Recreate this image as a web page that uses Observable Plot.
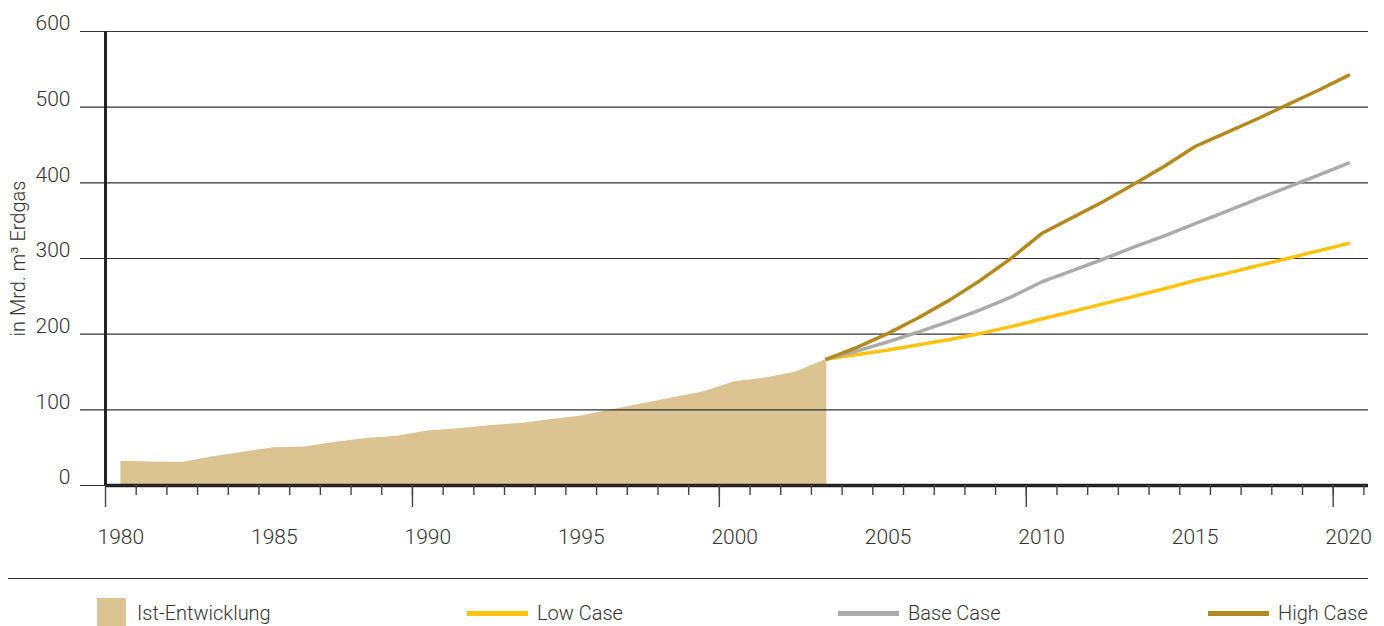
<!DOCTYPE html>
<html>
<head>
<meta charset="utf-8">
<script src="https://cdn.jsdelivr.net/npm/d3@7"></script>
<script src="https://cdn.jsdelivr.net/npm/@observablehq/plot@0.6"></script>
<style>
  html, body { margin: 0; padding: 0; background: #fff; }
  body { width: 1384px; height: 626px; overflow: hidden; font-family: Roboto, "Liberation Sans", sans-serif; }
  #chart svg text { font-weight: 300; }
  #legend { position: relative; width: 1384px; height: 56px; }
  #legend .rule { position: absolute; left: 8px; width: 1360px; top: 8px; height: 0; border-top: 1.5px solid #333; }
  #legend .item { position: absolute; top: 28px; height: 30px; display: flex; align-items: center; font-size: 20px; font-weight: 300; color: #333; }
  #legend .sq { width: 29px; height: 30px; margin-right: 11px; }
  #legend .ln { width: 61px; height: 5px; margin-right: 9px; }
</style>
</head>
<body>
<div id="chart"></div>
<div id="legend"></div>
<script>
// ---- data ----
const histYears = [1980,1981,1982,1983,1984,1985,1986,1987,1988,1989,1990,1991,1992,1993,1994,1995,1996,1997,1998,1999,2000,2001,2002,2003];
const istValues = [32,31,30.5,38,44,50,51,57,62,65,72,75,79,82,87,92,100,108,116,124,137,142,150,167];

const projYears = [2003,2004,2005,2006,2007,2008,2009,2010,2011,2012,2013,2014,2015,2016,2017,2018,2019,2020];
const lowCase  = [167,173,179,186,193,201,210,220,230,240,250,260,271,280,290,300,310,320];
const baseCase = [167,178,190,203,217,232,249,269,284,299,315,330,346,362,378,394,410,426];
const highCase = [167,183,201,222,245,271,300,333,354,375,398,422,448,466,484,503,522,542];

const yTicks = [0,100,200,300,400,500,600];
const labelYears = [1980,1985,1990,1995,2000,2005,2010,2015,2020];
const decadeTicks = [1980,1990,2000,2010,2020];
const yearTicks = [1981,1982,1983,1984,1985,1986,1987,1988,1989,1990,1991,1992,1993,1994,1995,1996,1997,1998,1999,2000,2001,2002,2003,2004,2005,2006,2007,2008,2009,2010,2011,2012,2013,2014,2015,2016,2017,2018,2019,2020,2021];

const seriesNames = ["Ist-Entwicklung","Low Case","Base Case","High Case"];
const seriesColors = ["#dbc392","#ffc30f","#ababab","#b28a1f"];
const yLabel = "in Mrd. m³ Erdgas";

// ---- tables ----
const hist = histYears.map((y,i) => ({year: y, value: istValues[i]}));
const proj = [];
[["Low Case", lowCase],["Base Case", baseCase],["High Case", highCase]].forEach(([name, vals]) => {
  projYears.forEach((y,i) => proj.push({series: name, year: y, value: vals[i]}));
});

const xMin = 1979.185, xMax = 2021.15;

const chart = Plot.plot({
  width: 1384,
  height: 570,
  marginLeft: 80,
  marginRight: 16,
  marginTop: 31,
  marginBottom: 85,
  x: {domain: [xMin, xMax]},
  y: {domain: [0, 600]},
  color: {domain: seriesNames, range: seriesColors},
  style: {fontFamily: "Roboto, 'Liberation Sans', sans-serif", fontSize: "21px", color: "#333", background: "#fff"},
  marks: [
    Plot.areaY(hist, {x: d => d.year + 0.5, y: "value", fill: seriesColors[0]}),
    Plot.ruleY(yTicks, {stroke: "#333", strokeWidth: 1.2}),
    Plot.ruleY([0], {x1: 1980, x2: xMax, stroke: "#222", strokeWidth: 3.5}),
    Plot.ruleX([1980], {y1: 0, y2: 600, stroke: "#222", strokeWidth: 3}),
    Plot.line(proj, {x: d => d.year + 0.5, y: "value", z: "series", stroke: "series", strokeWidth: 3.5, strokeLinejoin: "round"}),
    Plot.axisX({ticks: yearTicks, tickSize: 10, tickFormat: () => "", stroke: "#444", strokeWidth: 1.4}),
    Plot.axisX({ticks: decadeTicks, tickSize: 22, tickFormat: () => "", stroke: "#444", strokeWidth: 1.4}),
    Plot.axisX({ticks: labelYears.map(y => y + 0.5), tickSize: 0, tickPadding: 44, tickFormat: d => String(Math.floor(d)), fontSize: 21, fill: "#333", label: null}),
    Plot.axisY({ticks: yTicks, tickSize: 0, tickPadding: 10, dy: -8, fontSize: 21, fill: "#333", label: null}),
    Plot.text([yLabel], {frameAnchor: "left", dx: -62, rotate: -90, fontSize: 20, fill: "#333", textAnchor: "middle"})
  ]
});
document.getElementById("chart").appendChild(chart);

// ---- legend ----
const legend = document.getElementById("legend");
const rule = document.createElement("div");
rule.className = "rule";
legend.appendChild(rule);
const lefts = [97, 467, 838, 1208];
seriesNames.forEach((name, i) => {
  const item = document.createElement("div");
  item.className = "item";
  item.style.left = lefts[i] + "px";
  const sw = document.createElement("div");
  sw.className = i === 0 ? "sq" : "ln";
  sw.style.background = seriesColors[i];
  item.appendChild(sw);
  const t = document.createElement("span");
  t.textContent = name;
  item.appendChild(t);
  legend.appendChild(item);
});
</script>
</body>
</html>
